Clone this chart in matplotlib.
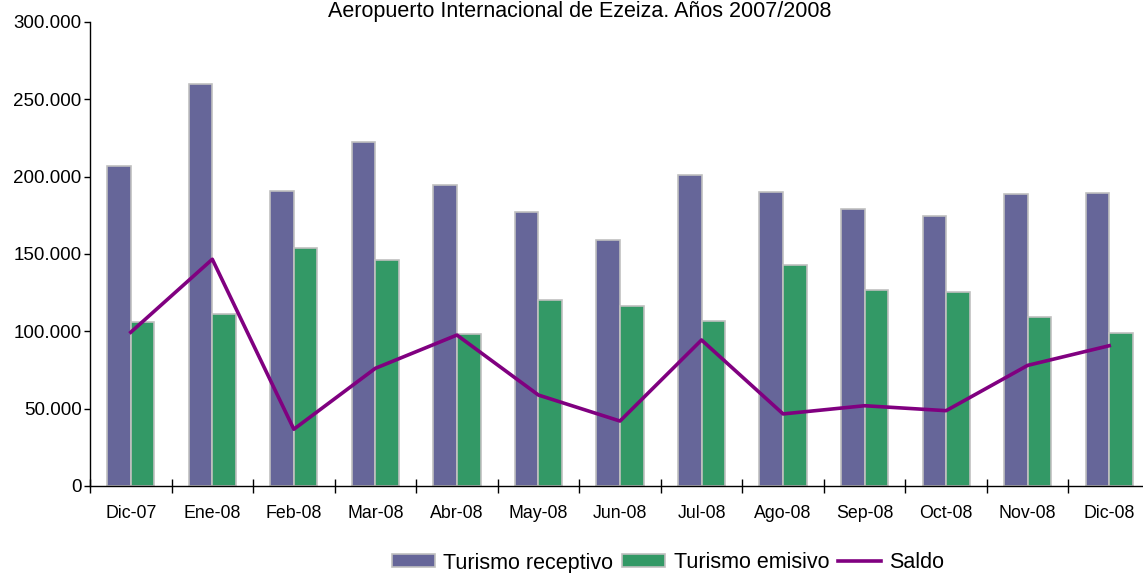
import matplotlib
matplotlib.use("Agg")
import matplotlib.pyplot as plt
import numpy as np
from matplotlib.ticker import FuncFormatter

plt.rcParams['font.family'] = ['Liberation Sans', 'DejaVu Sans']

categories = ["Dic-07", "Ene-08", "Feb-08", "Mar-08", "Abr-08", "May-08", "Jun-08",
              "Jul-08", "Ago-08", "Sep-08", "Oct-08", "Nov-08", "Dic-08"]
receptivo = [207000, 260000, 191000, 222500, 194600, 177200, 159100,
             201100, 190100, 178900, 174800, 189000, 189700]
emisivo = [105800, 111200, 153700, 146100, 98300, 120300, 116400,
           106700, 142900, 126700, 125400, 109500, 98700]
saldo = [99400, 146600, 36700, 76100, 97600, 58800, 42000,
         94400, 46600, 51900, 48700, 78000, 90700]
yticks = [0, 50000, 100000, 150000, 200000, 250000, 300000]
title = "Aeropuerto Internacional de Ezeiza. Años 2007/2008"

W, H = 1143, 573
fig = plt.figure(figsize=(W / 100, H / 100), dpi=100)
ax = fig.add_axes([90 / W, 87 / H, 1060 / W, 464 / H])

x = np.arange(len(categories))
bw = 0.29
b1 = ax.bar(x - bw / 2, receptivo, width=bw, color="#666699", edgecolor="#c0c0c0",
            linewidth=1.2, label="Turismo receptivo", zorder=2)
b2 = ax.bar(x + bw / 2, emisivo, width=bw, color="#339966", edgecolor="#c0c0c0",
            linewidth=1.2, label="Turismo emisivo", zorder=2)
l1, = ax.plot(x, saldo, color="#800080", linewidth=2.6, label="Saldo", zorder=3)

ax.set_xlim(-0.5, len(categories) - 0.5)
ax.set_ylim(0, 300000)
ax.set_yticks(yticks)
ax.yaxis.set_major_formatter(FuncFormatter(lambda v, p: f"{int(v):,}".replace(",", ".")))
ax.set_xticks(x)
ax.set_xticklabels(categories)
ax.set_xticks(np.arange(len(categories) + 1) - 0.5, minor=True)
ax.tick_params(axis='x', which='major', length=0, labelsize=12.8, pad=14)
ax.tick_params(axis='x', which='minor', direction='inout', length=10, width=1, color='black')
ax.tick_params(axis='y', direction='out', length=4, width=1, labelsize=13.5, pad=2)

for s in ["top", "right"]:
    ax.spines[s].set_visible(False)
for s in ["left", "bottom"]:
    ax.spines[s].set_color("black")
    ax.spines[s].set_linewidth(1)

fig.text(580 / W, 1 - 17 / H, title, ha="center", va="baseline", fontsize=15.5)

leg = fig.legend([b1, b2, l1], ["Turismo receptivo", "Turismo emisivo", "Saldo"],
                 loc="center", bbox_to_anchor=(668 / W, 1 - 563 / H), ncol=3,
                 frameon=False, fontsize=15.5, handlelength=2.0, handleheight=0.55,
                 handletextpad=0.4, columnspacing=0.4, borderpad=0, borderaxespad=0)

fig.savefig("out.png", dpi=100)
